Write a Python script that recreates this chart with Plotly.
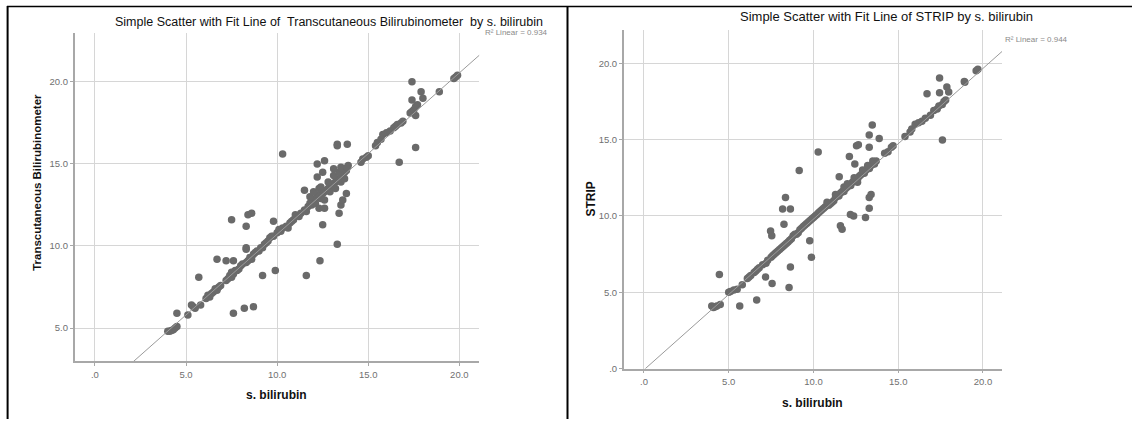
import plotly.graph_objects as go

W, H = 1132, 424

# ---------------- data ----------------
# Left panel: s. bilirubin vs Transcutaneous Bilirubinometer
left_x = [4.0, 4.1, 4.2, 4.3, 4.4, 4.5, 5.1, 5.3, 5.4, 5.5, 5.8,
          6.1, 6.2, 6.3, 6.4, 6.5, 6.6, 6.7, 6.8, 6.9,
          7.2, 7.3, 7.4, 7.5, 7.5, 7.6, 7.7, 7.8, 7.9, 8.0, 8.1, 8.3, 8.4, 8.5, 8.6, 8.7, 8.8, 8.9,
          9.0, 9.1, 9.2, 9.3, 9.4, 9.5, 9.6, 9.7, 9.8,
          10.0, 10.1, 10.2, 10.3, 10.5, 10.6, 10.7, 10.8, 10.9, 11.0, 11.2, 11.3, 11.5, 11.6,
          11.7, 11.8, 11.9, 12.0, 12.1, 12.2, 12.3, 12.4, 12.5, 12.6, 12.7, 12.8, 12.9, 13.0,
          13.1, 13.2, 13.3, 13.4, 13.5, 13.6, 13.7,
          11.8, 12.0, 12.1, 12.3, 12.4, 12.6, 12.8, 12.9, 13.1, 13.2, 13.4, 13.5, 13.6, 13.7, 13.8, 13.9,
          14.6, 14.7, 14.9, 15.0, 15.4, 15.5, 15.7, 15.8, 16.0, 16.2, 16.4, 16.5, 16.6, 16.8, 16.9,
          17.3, 17.4, 17.5, 17.6, 17.7, 18.9, 19.7, 19.8, 19.9,
          4.5, 5.7, 6.7, 7.2, 7.6, 7.5, 7.6, 8.2, 8.7, 8.3, 8.4, 8.6, 8.3, 8.3, 9.2, 9.9, 9.8,
          10.3, 11.6, 12.35, 12.5, 13.3, 11.5, 12.2, 12.6, 12.5, 12.2, 12.3, 12.6, 13.1, 13.5,
          13.85, 13.3, 13.3, 13.85, 13.4, 13.5, 13.6, 13.8, 16.7, 17.6, 17.4, 17.9, 18.0, 17.4, 17.6]
left_y = [4.8, 4.8, 4.85, 4.9, 5.0, 5.1, 5.8, 6.4, 6.3, 6.2, 6.4,
          6.8, 7.0, 6.9, 7.1, 7.2, 7.4, 7.3, 7.5, 7.6,
          7.9, 8.0, 8.2, 8.1, 8.4, 8.3, 8.5, 8.5, 8.6, 8.8, 8.9, 9.0, 9.1, 9.3, 9.2, 9.5, 9.6, 9.7,
          9.7, 9.9, 9.9, 10.1, 10.2, 10.3, 10.5, 10.6, 10.6,
          10.8, 11.0, 10.9, 11.1, 11.2, 11.1, 11.4, 11.5, 11.6, 11.9, 11.8, 12.0, 12.2, 12.1,
          12.4, 12.6, 12.5, 12.8, 12.9, 13.0, 13.1, 12.9, 13.2, 13.3, 13.4, 13.5, 13.6, 13.7,
          13.8, 13.9, 14.0, 14.1, 14.2, 14.3, 14.5,
          13.0, 13.3, 12.6, 13.5, 13.6, 12.8, 13.9, 13.3, 14.3, 13.5, 14.5, 13.9, 14.7, 14.1, 14.6, 14.9,
          15.1, 15.3, 15.4, 15.5, 16.1, 16.3, 16.5, 16.8, 16.9, 17.0, 17.2, 17.3, 17.4, 17.5, 17.6,
          18.1, 18.2, 18.3, 18.5, 18.6, 19.4, 20.2, 20.3, 20.4,
          5.9, 8.1, 9.2, 9.1, 9.1, 11.6, 5.9, 6.2, 6.3, 11.2, 11.9, 12.0, 9.8, 9.9, 8.2, 8.5, 11.5,
          15.6, 8.2, 9.1, 11.3, 10.1, 13.4, 15.0, 15.2, 14.5, 14.2, 12.3, 12.3, 14.7, 14.8,
          14.8, 16.1, 16.2, 16.2, 12.0, 12.5, 12.8, 13.2, 15.1, 16.0, 20.0, 19.4, 19.0, 18.9, 17.95]

# Right panel: s. bilirubin vs STRIP
right_x = [4.0, 4.1, 4.2, 4.3, 4.5, 5.0, 5.1, 5.3, 5.5, 5.8,
           6.1, 6.2, 6.3, 6.5, 6.6, 6.7, 6.8, 7.0, 7.2, 7.3, 7.5, 7.6, 7.7, 7.8, 7.9,
           8.0, 8.1, 8.2, 8.3, 8.4, 8.5, 8.6, 8.7, 8.8, 8.9, 9.0, 9.1, 9.2, 9.3, 9.4, 9.5, 9.6,
           9.7, 9.8, 9.9, 10.0, 10.1, 10.2, 10.3, 10.4, 10.5, 10.6, 10.7, 10.9, 11.0, 11.1, 11.2,
           11.3, 11.4, 11.5, 11.6, 11.7, 11.8, 11.9, 12.0, 12.1, 12.2, 12.3, 12.4, 12.5, 12.6,
           12.7, 12.8, 12.9, 13.0, 13.1, 13.2, 13.3, 13.4, 13.5, 13.6, 13.7,
           11.3, 11.8, 12.0, 12.4, 12.9, 13.2, 13.5, 13.6, 10.8, 12.6,
           14.2, 14.4, 14.6, 14.7, 15.4, 15.7, 15.8, 16.0, 16.2, 16.4, 16.6, 16.9, 17.1, 17.3,
           17.4, 17.6, 17.7, 17.8, 18.9, 19.6, 19.7,
           4.45, 5.65, 6.65, 7.17, 7.56, 7.47, 7.54, 8.18, 8.64, 8.35, 8.26, 8.64, 8.56, 9.16,
           9.78, 9.88, 10.28, 11.52, 11.59, 11.69, 12.18, 12.37, 12.12, 12.44, 12.54, 12.65,
           13.29, 13.29, 13.47, 13.88, 13.07, 13.29, 13.29, 13.4, 16.7, 17.44, 17.44, 17.87,
           17.98, 17.61, 18.93]
right_y = [4.1, 4.0, 4.05, 4.1, 4.2, 5.0, 5.05, 5.15, 5.2, 5.5,
           5.9, 6.0, 6.1, 6.3, 6.4, 6.5, 6.6, 6.8, 6.9, 7.1, 7.3, 7.4, 7.5, 7.6, 7.7,
           7.8, 7.9, 8.0, 8.1, 8.2, 8.3, 8.4, 8.5, 8.7, 8.8, 8.8, 8.9, 9.1, 9.2, 9.3, 9.4, 9.5,
           9.6, 9.7, 9.8, 9.9, 10.0, 10.1, 10.2, 10.3, 10.4, 10.5, 10.6, 10.7, 10.8, 10.9, 11.0,
           11.2, 11.3, 11.3, 11.5, 11.6, 11.6, 11.8, 11.9, 12.0, 12.0, 12.2, 12.3, 12.4, 12.4,
           12.6, 12.7, 12.8, 12.8, 13.0, 13.1, 13.1, 13.3, 13.4, 13.5, 13.6,
           11.4, 11.9, 12.1, 12.5, 13.0, 13.3, 13.6, 13.4, 10.9, 12.2,
           14.1, 14.2, 14.5, 14.6, 15.2, 15.5, 15.7, 16.0, 16.1, 16.2, 16.4, 16.6, 16.9, 17.0,
           17.2, 17.3, 17.5, 17.6, 18.8, 19.5, 19.6,
           6.17, 4.1, 4.49, 6.0, 5.57, 9.02, 8.7, 10.45, 10.45, 11.2, 9.46, 6.65, 5.31, 12.97,
           8.37, 7.3, 14.18, 12.56, 9.35, 9.13, 10.1, 9.99, 13.9, 13.4, 14.6, 14.66,
           14.5, 15.3, 15.95, 15.07, 9.89, 10.5, 11.2, 11.4, 18.0, 19.04, 18.07, 18.44,
           18.11, 14.98, 18.76]

# Fit lines: [intercept, slope]
left_fit = [0.886, 0.983]
right_fit = [-0.08, 0.987]
left_r2 = "R² Linear = 0.934"
right_r2 = "R² Linear = 0.944"

left_title = "Simple Scatter with Fit Line of  Transcutaneous Bilirubinometer  by s. bilirubin"
right_title = "Simple Scatter with Fit Line of STRIP by s. bilirubin"
x_title = "s. bilirubin"
left_y_title = "Transcutaneous Bilirubinometer"
right_y_title = "STRIP"

x_tickvals = [0, 5, 10, 15, 20]
x_ticktext = [".0", "5.0", "10.0", "15.0", "20.0"]
left_y_tickvals = [5, 10, 15, 20]
left_y_ticktext = ["5.0", "10.0", "15.0", "20.0"]
right_y_tickvals = [0, 5, 10, 15, 20]
right_y_ticktext = [".0", "5.0", "10.0", "15.0", "20.0"]

left_xrange = [-1.11, 21.1]
left_yrange = [2.97, 23.0]
right_xrange = [-1.19, 21.13]
right_yrange = [0, 22.2]


def fx(px):
    return px / W


def fy(py):
    return 1 - py / H


MARK = "#6a6a6a"
FIT = "#9a9a9a"
FONT = "Liberation Sans, Arial, sans-serif"

fig = go.Figure()

fig.add_trace(go.Scatter(x=left_x, y=left_y, mode="markers", xaxis="x", yaxis="y",
                         marker=dict(size=7.5, color=MARK, line=dict(width=0)),
                         showlegend=False, hoverinfo="skip"))
fig.add_trace(go.Scatter(x=right_x, y=right_y, mode="markers", xaxis="x2", yaxis="y2",
                         marker=dict(size=7.5, color=MARK, line=dict(width=0)),
                         showlegend=False, hoverinfo="skip"))

lx = [left_xrange[0] - 1, left_xrange[1]]
fig.add_trace(go.Scatter(x=lx, y=[left_fit[0] + left_fit[1] * v for v in lx], mode="lines",
                         xaxis="x", yaxis="y", line=dict(color=FIT, width=1),
                         showlegend=False, hoverinfo="skip"))
rx = [right_xrange[0], right_xrange[1]]
fig.add_trace(go.Scatter(x=rx, y=[right_fit[0] + right_fit[1] * v for v in rx], mode="lines",
                         xaxis="x2", yaxis="y2", line=dict(color=FIT, width=1),
                         showlegend=False, hoverinfo="skip"))

axis_common = dict(showline=True, linecolor="#a8a8a8", linewidth=1.5, showgrid=True,
                   gridcolor="#d6d6d6", gridwidth=1, zeroline=False, ticks="outside",
                   ticklen=3, tickcolor="#a8a8a8", tickfont=dict(family=FONT, size=9.5, color="#707070"),
                   fixedrange=True)

fig.update_layout(
    width=W, height=H, margin=dict(l=0, r=0, t=0, b=0),
    paper_bgcolor="white", plot_bgcolor="white",
    xaxis=dict(domain=[fx(74.7), fx(479.4)], range=left_xrange, anchor="y",
               tickvals=x_tickvals, ticktext=x_ticktext, **axis_common),
    yaxis=dict(domain=[fy(365.7), fy(33)], range=left_yrange, anchor="x",
               tickvals=left_y_tickvals, ticktext=left_y_ticktext, **axis_common),
    xaxis2=dict(domain=[fx(623.8), fx(1002.1)], range=right_xrange, anchor="y2",
                tickvals=x_tickvals, ticktext=x_ticktext, **axis_common),
    yaxis2=dict(domain=[fy(373), fy(30)], range=right_yrange, anchor="x2",
                tickvals=right_y_tickvals, ticktext=right_y_ticktext, **axis_common),
)

ann = []
ann.append(dict(text=left_title, x=fx(328.5), y=fy(22.7), xref="paper", yref="paper",
                showarrow=False, xanchor="center", yanchor="middle",
                font=dict(family=FONT, size=12.5, color="#111")))
ann.append(dict(text=right_title, x=fx(886.4), y=fy(16.7), xref="paper", yref="paper",
                showarrow=False, xanchor="center", yanchor="middle",
                font=dict(family=FONT, size=13, color="#111")))
ann.append(dict(text=left_r2, x=fx(483), y=fy(33), xref="paper", yref="paper",
                showarrow=False, xanchor="left", yanchor="middle",
                font=dict(family=FONT, size=8, color="#8a8a8a")))
ann.append(dict(text=right_r2, x=fx(1002.8), y=fy(40), xref="paper", yref="paper",
                showarrow=False, xanchor="left", yanchor="middle",
                font=dict(family=FONT, size=8, color="#8a8a8a")))
ann.append(dict(text="<b>" + x_title + "</b>", x=fx(276.9), y=fy(399.7), xref="paper", yref="paper",
                showarrow=False, xanchor="center", yanchor="middle",
                font=dict(family=FONT, size=12, color="#111")))
ann.append(dict(text="<b>" + x_title + "</b>", x=fx(812.9), y=fy(408), xref="paper", yref="paper",
                showarrow=False, xanchor="center", yanchor="middle",
                font=dict(family=FONT, size=12, color="#111")))
ann.append(dict(text="<b>" + left_y_title + "</b>", x=fx(37), y=fy(185), xref="paper", yref="paper",
                showarrow=False, xanchor="center", yanchor="middle", textangle=-90,
                font=dict(family=FONT, size=11.5, color="#111")))
ann.append(dict(text="<b>" + right_y_title + "</b>", x=fx(591), y=fy(202), xref="paper", yref="paper",
                showarrow=False, xanchor="center", yanchor="middle", textangle=-90,
                font=dict(family=FONT, size=12, color="#111")))
fig.update_layout(annotations=ann)

# table-like frame around the two panels
shapes = [
    dict(type="line", xref="paper", yref="paper", x0=fx(7.6), x1=fx(7.6), y0=fy(6), y1=fy(424),
         line=dict(color="black", width=2)),
    dict(type="line", xref="paper", yref="paper", x0=fx(567.5), x1=fx(567.5), y0=fy(6), y1=fy(424),
         line=dict(color="black", width=2)),
    dict(type="line", xref="paper", yref="paper", x0=fx(7), x1=fx(1132), y0=fy(6.5), y1=fy(6.5),
         line=dict(color="black", width=1.5)),
]
fig.update_layout(shapes=shapes)

fig.write_html("out.html", config={"displayModeBar": False},
               post_script="document.body.style.margin='0';document.body.style.overflow='hidden';")
